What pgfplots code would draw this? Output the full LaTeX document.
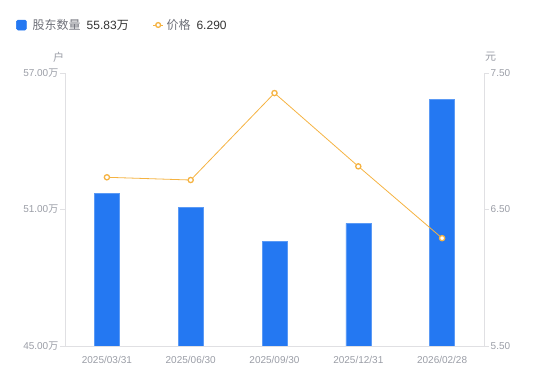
\documentclass[border=0pt]{standalone}
\usepackage{fontspec}
\setmainfont{Liberation Sans}
\newfontfamily\cjk{Noto Sans CJK SC}
\usepackage{pgfplots}
\pgfplotsset{compat=1.18}
\definecolor{barblue}{HTML}{2478F2}
\definecolor{lineorange}{HTML}{F5B342}
\definecolor{axisgray}{HTML}{E0E0E3}
\definecolor{labelgray}{HTML}{9A9DA6}
\definecolor{legendgray}{HTML}{6E7079}
\definecolor{darktext}{HTML}{333333}
\begin{document}
\begin{tikzpicture}[x=1pt,y=1pt]
\useasboundingbox (0,0) rectangle (550,381);
\begin{axis}[
  at={(65pt,35pt)}, anchor=south west,
  scale only axis, width=419pt, height=273pt,
  xmin=-0.5, xmax=4.5, ymin=45, ymax=57,
  axis x line*=bottom, axis y line*=left,
  axis line style={-, draw=axisgray, line width=0.8pt},
  xtick={0,1,2,3,4},
  xticklabels={2025/03/31,2025/06/30,2025/09/30,2025/12/31,2026/02/28},
  x tick style={draw=none}, xtick align=outside,
  ytick={45,51,57},
  yticklabels={45.00{\cjk 万},51.00{\cjk 万},57.00{\cjk 万}},
  y tick style={draw=axisgray, line width=0.8pt},
  ytick align=outside, major tick length=5pt,
  tick label style={font=\fontsize{10}{12}\selectfont, text=labelgray},
  yticklabel style={inner sep=1.5pt},
  xticklabel style={yshift=-2pt},
  ybar, bar width=25pt,
  legend columns=2,
  legend style={at={(-0.124,1.1758)}, anchor=west, draw=none, fill=none,
    font=\fontsize{12}{14}\selectfont,
    /tikz/every even column/.append style={column sep=21pt},
    nodes={inner sep=3pt}},
]
\addplot[fill=barblue, draw=barblue!75!white, line width=0.5pt,
  legend image code/.code={\fill[barblue, rounded corners=1.5pt] (0pt,-5pt) rectangle (10pt,5pt);}]
  coordinates {(0,51.71) (1,51.10) (2,49.60) (3,50.39) (4,55.83)};
\addlegendentry{\hspace{3pt}{\color{legendgray}\cjk 股东数量}\hspace{6pt}{\color{darktext}55.83{\cjk 万}}}
\addlegendimage{legend image code/.code={
  \draw[lineorange, line width=0.8pt] (0pt,0pt) -- (10pt,0pt);
  \draw[lineorange, fill=white, line width=1.3pt] (5pt,0pt) circle (2.4pt);}}
\addlegendentry{{\color{legendgray}\cjk 价格}\hspace{6pt}{\color{darktext}6.290}}
\end{axis}
\begin{axis}[
  at={(65pt,35pt)}, anchor=south west,
  scale only axis, width=419pt, height=273pt,
  xmin=-0.5, xmax=4.5, ymin=5.5, ymax=7.5,
  axis x line=none, axis y line*=right,
  axis line style={-, draw=axisgray, line width=0.8pt},
  ytick={5.5,6.5,7.5},
  yticklabels={5.50,6.50,7.50},
  y tick style={draw=axisgray, line width=0.8pt},
  ytick align=outside, major tick length=5pt,
  tick label style={font=\fontsize{10}{12}\selectfont, text=labelgray},
  yticklabel style={inner sep=1.5pt},
]
\addplot[lineorange, line width=0.8pt, mark=*, mark size=2.6pt,
  mark options={fill=white, draw=lineorange, line width=1.3pt}]
  coordinates {(0,6.736) (1,6.716) (2,7.353) (3,6.816) (4,6.290)};
\end{axis}
\node[font=\fontsize{11}{13}\selectfont\cjk, text=labelgray] at (58.5,323.5) {户};
\node[font=\fontsize{11}{13}\selectfont\cjk, text=labelgray] at (490.5,324) {元};
\end{tikzpicture}
\end{document}
